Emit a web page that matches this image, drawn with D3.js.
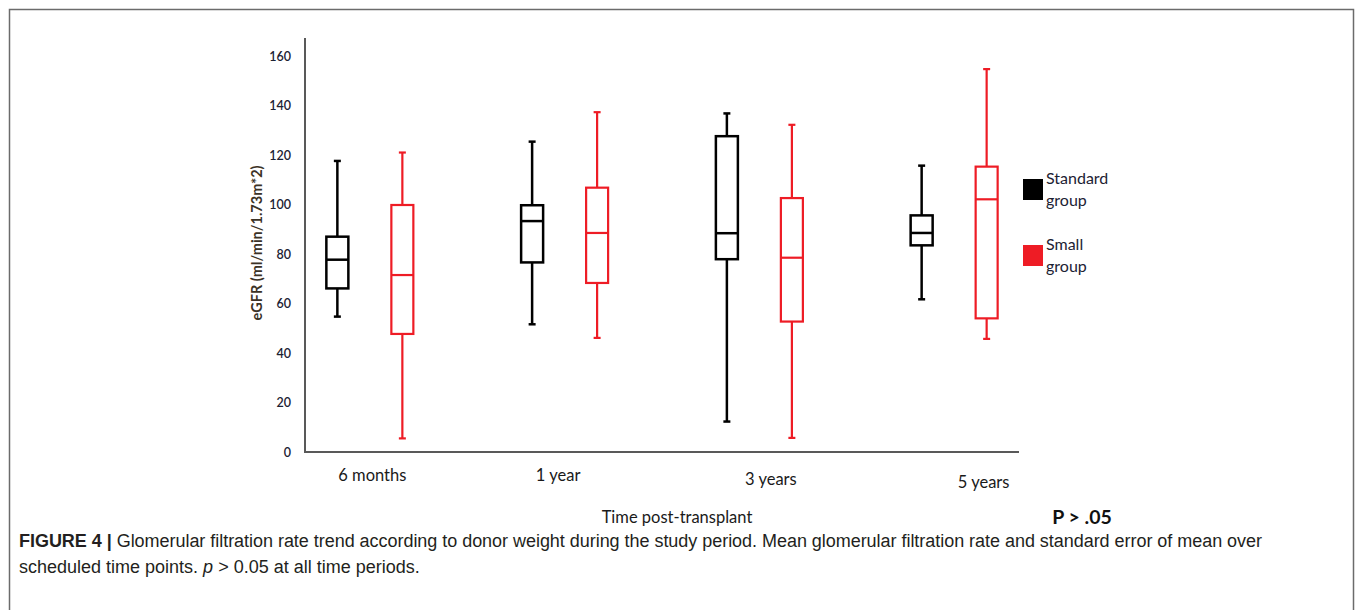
<!DOCTYPE html>
<html><head><meta charset="utf-8">
<script src="https://cdn.jsdelivr.net/npm/d3@7"></script>
<style>
body{margin:0;background:#fff;}
svg{display:block;}
</style></head>
<body><svg id="c" width="1355" height="610"></svg>
<script>
const categories = ["6 months", "1 year", "3 years", "5 years"];
const groups = ["Standard group", "Small group"];
// [whiskerLow, q1, median, q3, whiskerHigh]
const standardValues = [
  [54.7, 66.1, 77.7, 87.0, 117.6],
  [51.6, 76.6, 93.3, 99.7, 125.4],
  [12.3, 77.9, 88.4, 127.6, 136.8],
  [61.7, 83.5, 88.5, 95.6, 115.7]
];
const smallValues = [
  [5.5, 47.7, 71.5, 99.8, 121.0],
  [46.1, 68.3, 88.5, 106.8, 137.3],
  [5.7, 52.7, 78.5, 102.6, 132.2],
  [45.7, 54.0, 102.1, 115.3, 154.7]
];
const yTicks = [0, 20, 40, 60, 80, 100, 120, 140, 160];
const colors = ["#000000", "#ee1c25"];

const svg = d3.select("#c");
// frame
svg.append("rect").attr("x", 9.5).attr("y", 9.5).attr("width", 1344).attr("height", 620)
  .attr("fill", "none").attr("stroke", "#6b6b6b").attr("stroke-width", 1.5);

const x0 = 305, x1 = 1019, yTop = 38, yBase = 452;
const y = d3.scaleLinear().domain([0, 160]).range([yBase, 56]);
const x = d3.scalePoint().domain(categories).range([x0, x1]).padding(0.333);
const off = d3.scalePoint().domain(groups).range([-32.5, 32.5]);
const font = "Lato, 'Open Sans', sans-serif";

// y tick labels
const yAxis = svg.append("g").attr("transform", `translate(${x0},0)`)
  .call(d3.axisLeft(y).tickValues(yTicks).tickSize(0).tickPadding(14));
yAxis.select(".domain").remove();
yAxis.selectAll("text").attr("font-family", font)
  .attr("font-size", 12.5).attr("font-weight", 600).attr("fill", "#1c2233");

// x axis labels
const labelShift = [2, -7, 11, 29];
const labelDy = [0, 0, 4, 7];
const xAxis = svg.append("g").attr("transform", `translate(0,${yBase})`)
  .call(d3.axisBottom(x).tickSize(0).tickPadding(17));
xAxis.select(".domain").remove();
xAxis.selectAll("text").attr("font-family", font)
  .attr("font-size", 16.5).attr("fill", "#1a1a1a")
  .attr("dx", (d, i) => labelShift[i]).attr("dy", (d, i) => (0.71 * 16.5 + labelDy[i]) + "px");

// axis lines
svg.append("line").attr("x1", x0).attr("x2", x0).attr("y1", yTop).attr("y2", yBase + 1)
  .attr("stroke", "#595959").attr("stroke-width", 2);
svg.append("line").attr("x1", x0).attr("x2", x1).attr("y1", yBase).attr("y2", yBase)
  .attr("stroke", "#595959").attr("stroke-width", 2);

// boxes
const boxW = 22, capW = 7;
[standardValues, smallValues].forEach((vals, gi) => {
  const col = colors[gi];
  const sw = gi === 0 ? 2.5 : 2.2;
  vals.forEach((v, ci) => {
    const cx = x(categories[ci]) + off(groups[gi]);
    const g = svg.append("g").attr("stroke", col).attr("stroke-width", sw).attr("fill", "none");
    g.append("line").attr("x1", cx).attr("x2", cx).attr("y1", y(v[4])).attr("y2", y(v[3]));
    g.append("line").attr("x1", cx).attr("x2", cx).attr("y1", y(v[1])).attr("y2", y(v[0]));
    g.append("line").attr("x1", cx - capW / 2).attr("x2", cx + capW / 2).attr("y1", y(v[4])).attr("y2", y(v[4]));
    g.append("line").attr("x1", cx - capW / 2).attr("x2", cx + capW / 2).attr("y1", y(v[0])).attr("y2", y(v[0]));
    g.append("rect").attr("x", cx - boxW / 2).attr("y", y(v[3])).attr("width", boxW).attr("height", y(v[1]) - y(v[3])).attr("fill", "#fff");
    g.append("line").attr("x1", cx - boxW / 2).attr("x2", cx + boxW / 2).attr("y1", y(v[2])).attr("y2", y(v[2]));
  });
});

// y title
svg.append("text").attr("transform", "translate(262,243) rotate(-90)").attr("text-anchor", "middle")
  .attr("font-family", font).attr("font-size", 14.5).attr("font-weight", 700)
  .attr("fill", "#3b3226").text("eGFR (ml/min/1.73m*2)");

// x title
svg.append("text").attr("x", 677).attr("y", 523).attr("text-anchor", "middle")
  .attr("font-family", font).attr("font-size", 16.5).attr("fill", "#1a1a1a")
  .text("Time post-transplant");
svg.append("text").attr("x", 1082).attr("y", 524).attr("text-anchor", "middle")
  .attr("font-family", font).attr("font-size", 19.5).attr("font-weight", 700).attr("fill", "#111")
  .text("P > .05");

// legend
const leg = [["Standard", "group"], ["Small", "group"]];
leg.forEach((t, i) => {
  const ly = 179 + i * 66;
  svg.append("rect").attr("x", 1023).attr("y", ly).attr("width", 20).attr("height", 21).attr("fill", colors[i]);
  const tx = svg.append("text").attr("x", 1046).attr("font-family", font)
    .attr("font-size", 16).attr("fill", "#1c2233");
  tx.append("tspan").attr("x", 1046).attr("y", ly + 5).text(t[0]);
  tx.append("tspan").attr("x", 1046).attr("y", ly + 27).text(t[1]);
});

// caption
const capFont = "'Liberation Sans', Arial, sans-serif";
const c1 = svg.append("text").attr("x", 19).attr("y", 547).attr("font-family", capFont)
  .attr("font-size", 18).attr("fill", "#231f20")
  .attr("textLength", 1243).attr("lengthAdjust", "spacing");
c1.append("tspan").attr("font-weight", 700).text("FIGURE 4 | ");
c1.append("tspan").text("Glomerular filtration rate trend according to donor weight during the study period. Mean glomerular filtration rate and standard error of mean over");
const c2 = svg.append("text").attr("x", 19).attr("y", 573).attr("font-family", capFont)
  .attr("font-size", 18).attr("fill", "#231f20");
c2.append("tspan").text("scheduled time points. ");
c2.append("tspan").attr("font-style", "italic").text("p");
c2.append("tspan").text(" > 0.05 at all time periods.");
</script></body></html>
